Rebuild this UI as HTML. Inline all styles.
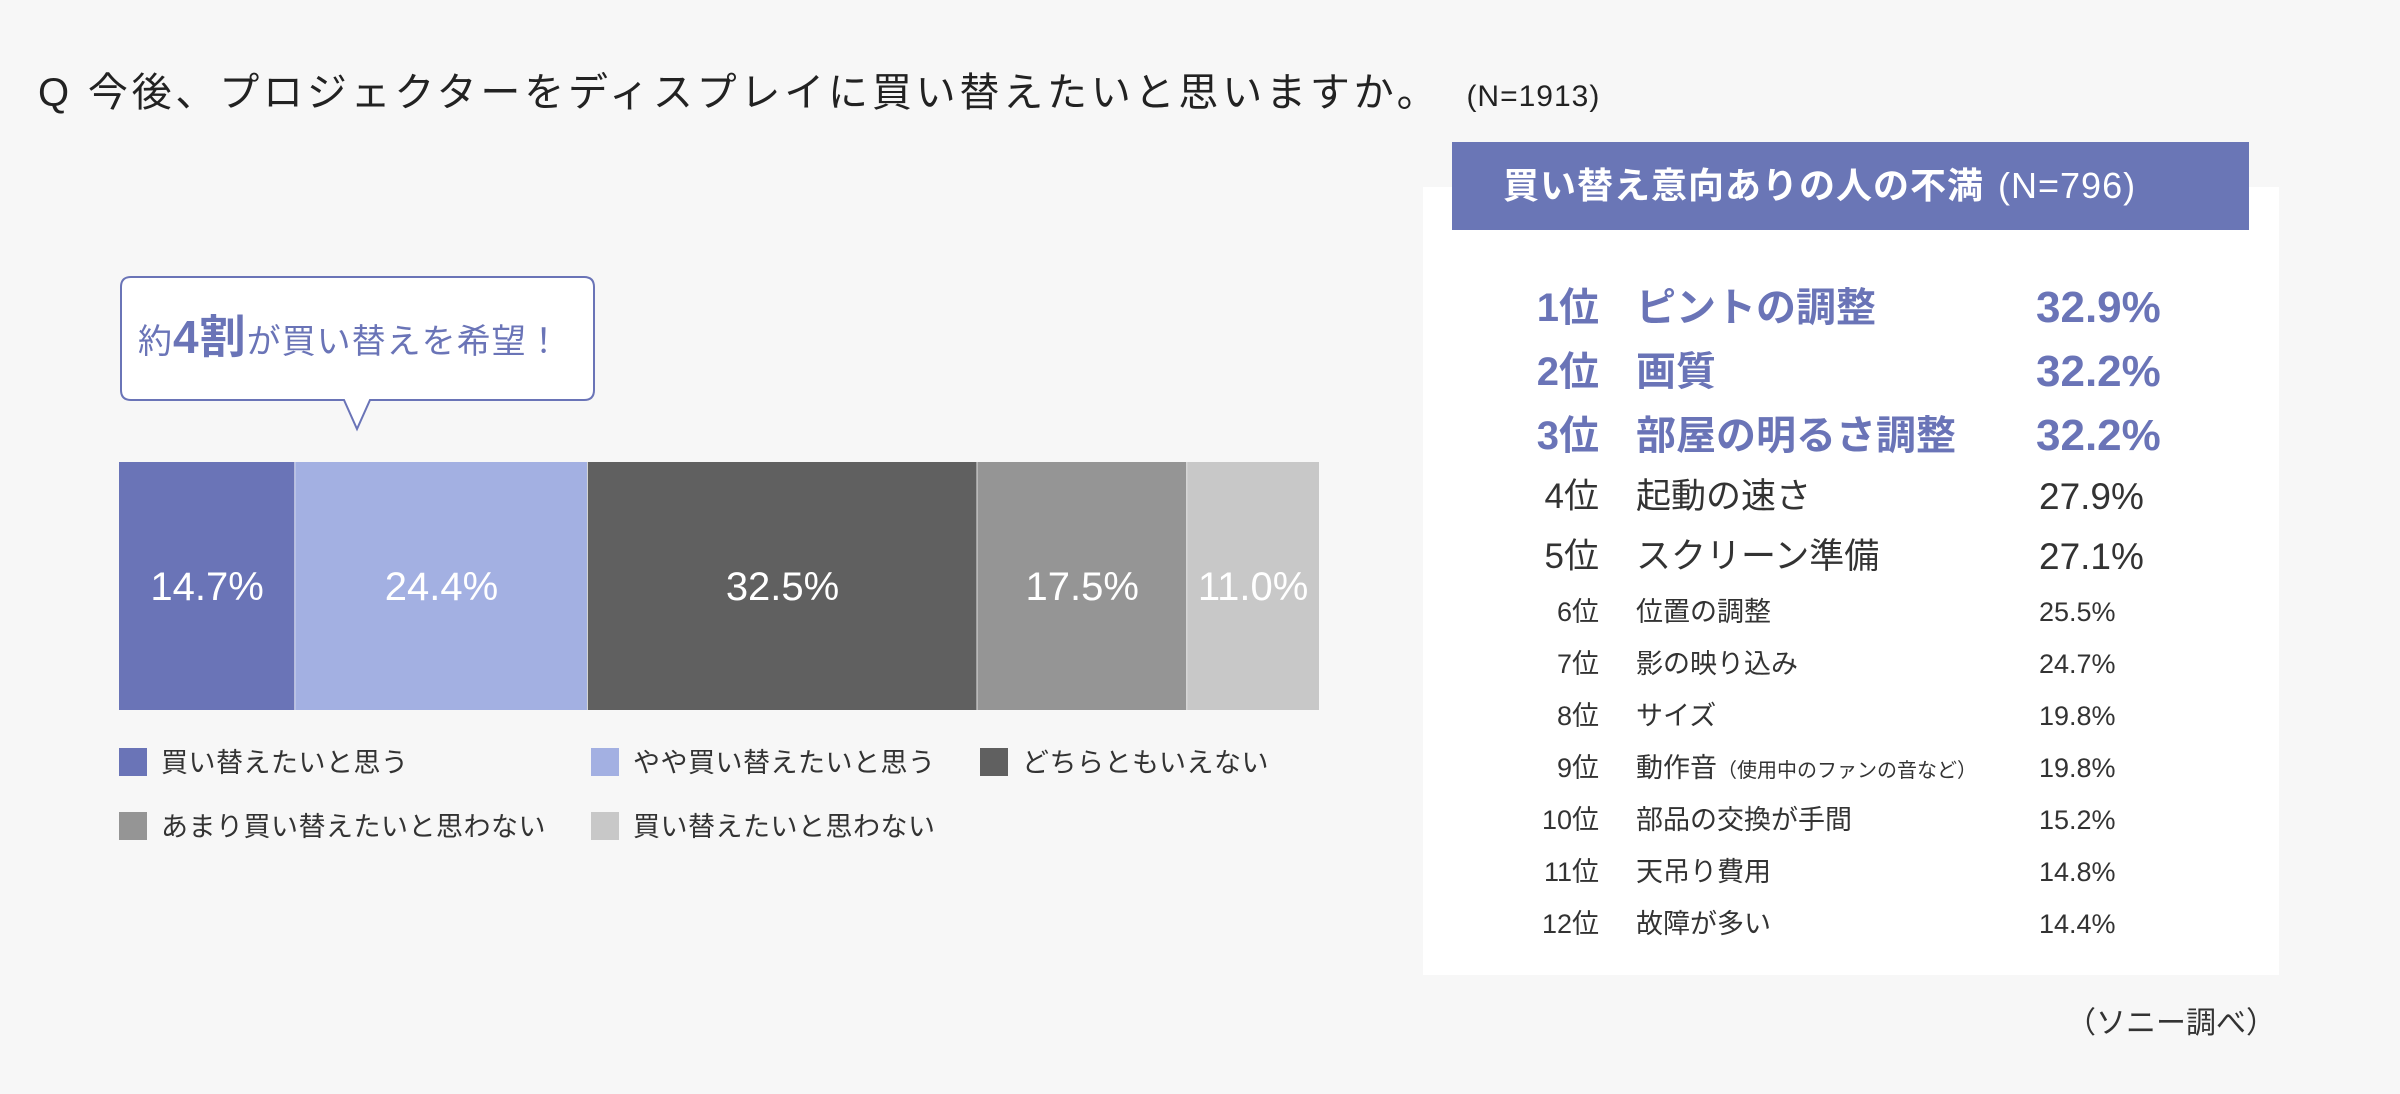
<!DOCTYPE html>
<html><head><meta charset="utf-8"><style>
body{margin:0;width:2400px;height:1094px;background:#f7f7f7;font-family:"Liberation Sans","Noto Sans CJK JP",sans-serif;position:relative;overflow:hidden;color:#333}
.abs{position:absolute;white-space:nowrap}
</style></head><body>
<div class="abs" style="left:38px;top:60px;font-size:40px;letter-spacing:3.8px;color:#222">Q 今後、プロジェクターをディスプレイに買い替えたいと思いますか。<span style="font-size:30px;letter-spacing:1px;margin-left:26px">(N=1913)</span></div>

<svg class="abs" style="left:0;top:0" width="2400" height="1094">
<path d="M131,277 H584 Q594,277 594,287 V390 Q594,400 584,400 H370 L357,429 L344,400 H131 Q121,400 121,390 V287 Q121,277 131,277 Z" fill="#fff" stroke="#6a74b7" stroke-width="2"/>
<text x="138" y="353" fill="#6a74b7" font-size="34" letter-spacing="1" font-family="Liberation Sans, Noto Sans CJK JP, sans-serif">約<tspan font-size="46" font-weight="bold">4割</tspan>が買い替えを希望！</text>
<g id="bars"></g>
<g id="legend"></g>
</svg>

<div class="abs" style="left:1423px;top:187px;width:856px;height:788px;background:#fff"></div>
<div class="abs" style="left:1452px;top:142px;width:797px;height:88px;background:#6a76b6;color:#fff;font-size:36px;letter-spacing:1px;font-weight:bold;line-height:88px;padding-left:51px;box-sizing:border-box">買い替え意向ありの人の不満<span style="font-size:36px;font-weight:normal;margin-left:14px">(N=796)</span></div>
<div id="rows"></div>
<div class="abs" style="right:124px;top:998px;font-size:30px;color:#333">（ソニー調べ）</div>

<script>
const segNames=["買い替えたいと思う","やや買い替えたいと思う","どちらともいえない","あまり買い替えたいと思わない","買い替えたいと思わない"];
const segValues=[14.7,24.4,32.5,17.5,11.0];
const segColors=["#6a74b7","#a3b0e2","#606060","#959595","#c8c8c8"];
const rankLabels=["ピントの調整","画質","部屋の明るさ調整","起動の速さ","スクリーン準備","位置の調整","影の映り込み","サイズ","動作音","部品の交換が手間","天吊り費用","故障が多い"];
const rankValues=[32.9,32.2,32.2,27.9,27.1,25.5,24.7,19.8,19.8,15.2,14.8,14.4];

const NS="http://www.w3.org/2000/svg";
const total=segValues.reduce((a,b)=>a+b,0);
const X0=119,W=1200,Y0=462,H=248;
const xs=v=>X0+v/total*W;
const bars=document.getElementById('bars');
let cum=0;
segValues.forEach((v,i)=>{
 const r=document.createElementNS(NS,'rect');
 
 
 r.setAttribute('x',xs(cum));r.setAttribute('y',Y0);
 r.setAttribute('width',xs(cum+v)-xs(cum));r.setAttribute('height',H);
 r.setAttribute('fill',segColors[i]);bars.appendChild(r);
 const t=document.createElementNS(NS,'text');
 
 
 t.setAttribute('x',(xs(cum)+xs(cum+v))/2);t.setAttribute('y',Y0+H/2+14);
 t.setAttribute('text-anchor','middle');t.setAttribute('fill','#fff');t.setAttribute('font-size','40');
 t.textContent=v.toFixed(1)+'%';bars.appendChild(t);
 if(i<4){const l=document.createElementNS(NS,'line');l.setAttribute('x1',xs(cum+v));l.setAttribute('x2',xs(cum+v));l.setAttribute('y1',Y0);l.setAttribute('y2',Y0+H);l.setAttribute('stroke','#fff');l.setAttribute('stroke-width','1.5');bars.appendChild(l);}
 cum+=v;
});
const lg=document.getElementById('legend');
const lpos=[[119,762],[591,762],[980,762],[119,826],[591,826]];
segNames.forEach((n,i)=>{
 const r=document.createElementNS(NS,'rect');
 
 
 r.setAttribute('x',lpos[i][0]);r.setAttribute('y',lpos[i][1]-14);r.setAttribute('width',28);r.setAttribute('height',28);r.setAttribute('fill',segColors[i]);lg.appendChild(r);
 const t=document.createElementNS(NS,'text');
 
 
 t.setAttribute('x',lpos[i][0]+42);t.setAttribute('y',lpos[i][1]+10);t.setAttribute('font-size','27');t.setAttribute('letter-spacing','0.5');t.setAttribute('fill','#333');
 t.textContent=n;lg.appendChild(t);
});
const rows=document.getElementById('rows');
const ys=[308,372,436,497,557,612,664,716,768,820,872,924];
rankLabels.forEach((n,i)=>{
 const fs=i<3?40:(i<5?35:27);
 const pfs=i<3?44:(i<5?37:27);
 const col=i<3?'#6a74b7':'#333';
 const fw=i<3?'bold':'normal';
 const mk=(txt,style,name,f)=>{const d=document.createElement('div');d.className='abs';
  
  
  d.style.cssText=style+`;top:${ys[i]-f*0.6}px;font-size:${f}px;color:${col};font-weight:${fw};line-height:${f*1.2}px`;d.innerHTML=txt;rows.appendChild(d);};
 mk((i+1)+'位',`right:${2400-1599}px`,'rank-number',fs);
 mk(i===8?n+'<span style="font-size:20px">（使用中のファンの音など）</span>':n,'left:1636px','rank-item',fs);
 mk(rankValues[i].toFixed(1)+'%',`left:${i<3?2036:2039}px`,'rank-value',pfs);
});
</script>
</body></html>
